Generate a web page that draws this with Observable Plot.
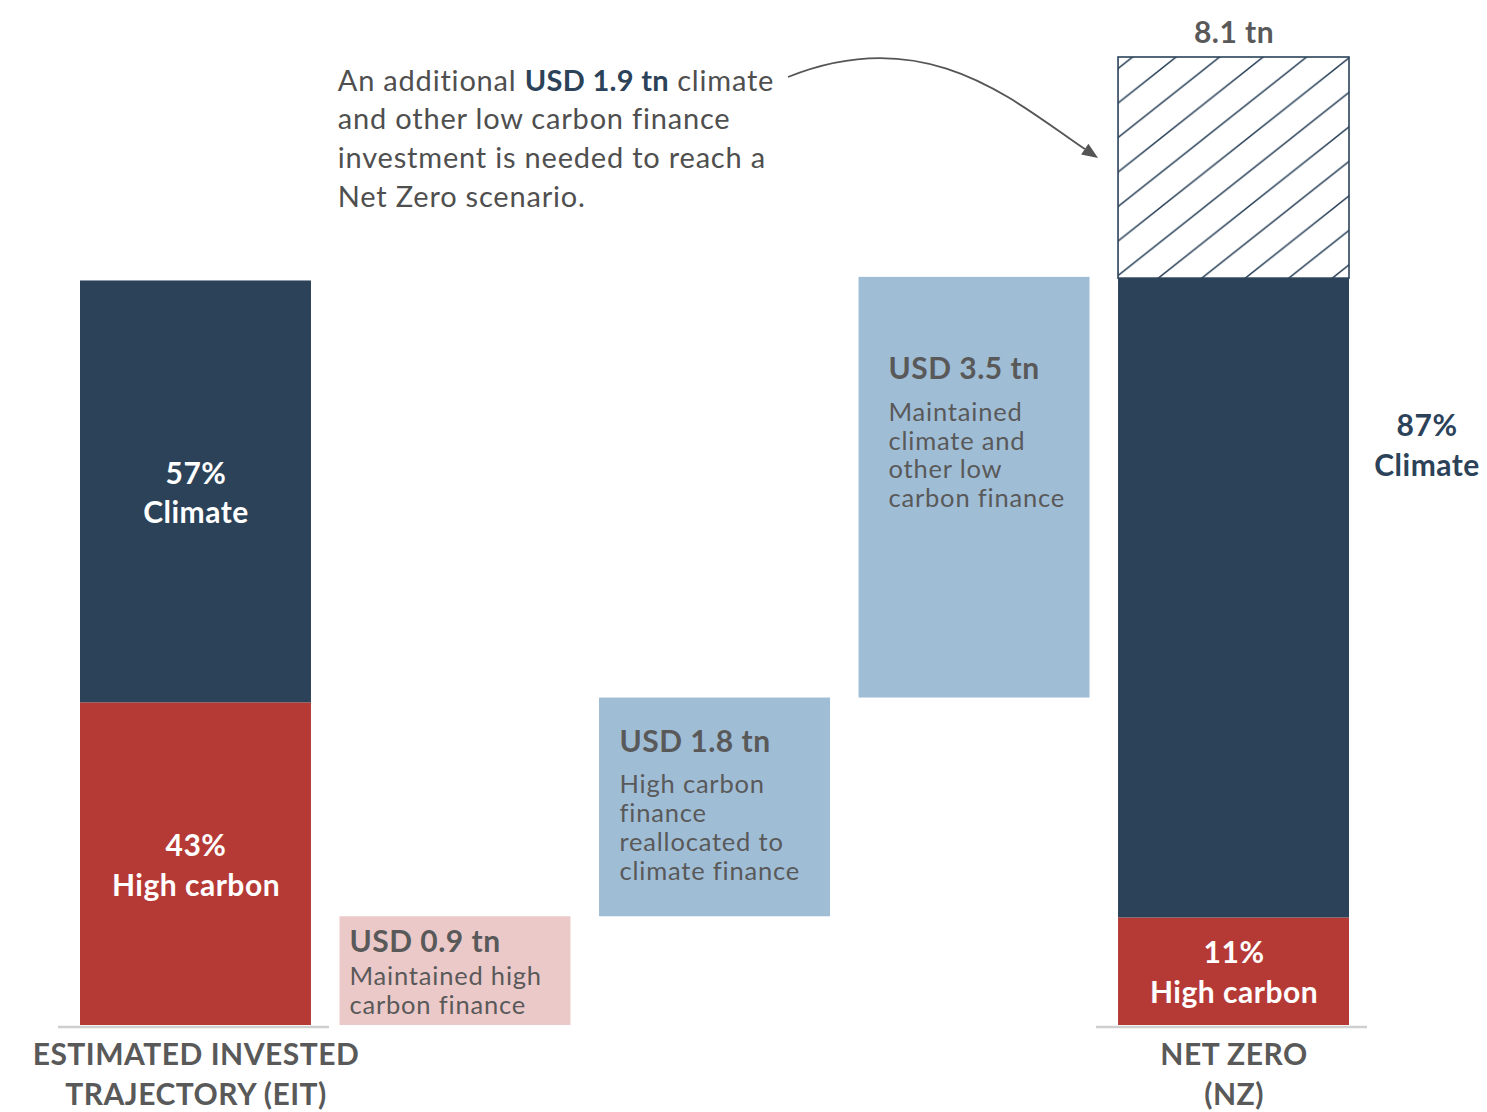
<!DOCTYPE html>
<html>
<head>
<meta charset="utf-8">
<script src="https://cdn.jsdelivr.net/npm/d3@7"></script>
<script src="https://cdn.jsdelivr.net/npm/@observablehq/plot@0.6"></script>
<style>
  html, body { margin: 0; padding: 0; background: #ffffff; }
  #chart { width: 1487px; height: 1112px; overflow: hidden; }
</style>
</head>
<body>
<div id="chart"></div>
<script>
// ---------- DATA ----------
const categories = ["EIT", "step1", "step2", "step3", "NZ"];
const axisLabels = ["ESTIMATED INVESTED\nTRAJECTORY (EIT)", "", "", "", "NET ZERO\n(NZ)"];

// Estimated invested trajectory (USD tn)
const eitHighCarbon = 2.7;
const eitClimate = 3.53;
const eitLabels = ["43%\nHigh carbon", "57%\nClimate"];

// Waterfall steps (USD tn)
const stepValues = [0.91, 1.83, 3.52];
const stepKinds = ["highShift", "climateShift", "climateShift"];
const stepTitles = ["USD 0.9 tn", "USD 1.8 tn", "USD 3.5 tn"];
const stepNotes = [
  "Maintained high\ncarbon finance",
  "High carbon\nfinance\nreallocated to\nclimate finance",
  "Maintained\nclimate and\nother low\ncarbon finance"
];

// Net Zero (USD tn)
const nzHighCarbon = 0.9;
const nzClimate = 5.35;
const nzAdditional = 1.85;
const nzLabels = ["11%\nHigh carbon", "87%\nClimate"];
const nzTotalLabel = "8.1 tn";

// Annotation
const annotationLines = [
  "An additional USD 1.9 tn climate",
  "and other low carbon finance",
  "investment is needed to reach a",
  "Net Zero scenario."
];
const annotationBold = "USD 1.9 tn";

// Colour keys
const kinds = ["high", "climate", "highShift", "climateShift"];
const kindColors = ["#b53a36", "#2b4259", "#ecc9c9", "#a0bdd6"];

// ---------- DERIVED TABLES ----------
const segments = [
  {cat: "EIT", y1: 0, y2: eitHighCarbon, kind: "high"},
  {cat: "EIT", y1: eitHighCarbon, y2: eitHighCarbon + eitClimate, kind: "climate"}
];
const steps = [];
let acc = 0;
stepValues.forEach((v, i) => {
  const row = {cat: categories[i + 1], y1: acc, y2: acc + v, kind: stepKinds[i], title: stepTitles[i], note: stepNotes[i]};
  segments.push(row);
  steps.push(row);
  acc += v;
});
segments.push({cat: "NZ", y1: 0, y2: nzHighCarbon, kind: "high"});
segments.push({cat: "NZ", y1: nzHighCarbon, y2: nzHighCarbon + nzClimate, kind: "climate"});
const nzClimateTop = nzHighCarbon + nzClimate;
const nzTotal = nzClimateTop + nzAdditional;
const hatchRows = [{cat: "NZ", y1: nzClimateTop, y2: nzTotal}];

const insideLabels = [
  {cat: "EIT", y: eitHighCarbon / 2, label: eitLabels[0]},
  {cat: "EIT", y: eitHighCarbon + eitClimate / 2, label: eitLabels[1]},
  {cat: "NZ", y: nzHighCarbon / 2, label: nzLabels[0]}
];
const baseRows = categories.map((c, i) => ({cat: c, label: axisLabels[i]})).filter(d => d.label);

const FONT = "Lato, 'Open Sans', 'Noto Sans', sans-serif";
const GREY = "#595959";

// per-step text offsets (layout)
const stepTextDx = [-106, -95.5, -86];
const stepTitleDy = [35.5, 54, 101.4];
const stepNoteDy = [97, 181.7, 229.8];

const stepTextMarks = [];
steps.forEach((s, i) => {
  stepTextMarks.push(Plot.text([s], {
    x: "cat", y: "y2", text: "title",
    textAnchor: "start", lineAnchor: "bottom",
    dx: stepTextDx[i], dy: stepTitleDy[i],
    fontSize: 30, fontWeight: 700, fill: GREY
  }));
  stepTextMarks.push(Plot.text([s], {
    x: "cat", y: "y2", text: "note",
    textAnchor: "start", lineAnchor: "bottom", lineHeight: 1.13,
    dx: stepTextDx[i], dy: stepNoteDy[i],
    fontSize: 25.5, fontWeight: 400, fill: GREY
  }));
});

const plot = Plot.plot({
  width: 1487,
  height: 1112,
  marginTop: 57,
  marginBottom: 87,
  marginLeft: 80,
  marginRight: 138,
  style: {fontFamily: FONT, background: "#ffffff", overflow: "visible"},
  x: {type: "band", domain: categories, paddingInner: 0.11, paddingOuter: 0, round: false, axis: null},
  y: {domain: [0, nzTotal], axis: null},
  color: {domain: kinds, range: kindColors},
  marks: [
    Plot.barY(segments, {x: "cat", y1: "y1", y2: "y2", fill: "kind"}),
    Plot.barY(hatchRows, {x: "cat", y1: "y1", y2: "y2", fill: "url(#nzHatch)", stroke: "#2b4259", strokeWidth: 1.6}),
    Plot.tickY(baseRows, {x: "cat", y: () => 0, stroke: "#cfcfcf", strokeWidth: 2.5, insetLeft: -22, insetRight: -18, dy: 1.5}),
    Plot.text(insideLabels, {
      x: "cat", y: "y", text: "label",
      lineAnchor: "bottom", lineHeight: 1.33, dy: 31.5,
      fontSize: 30, fontWeight: 700, fill: "#ffffff"
    }),
    Plot.text([{cat: "NZ", y: nzClimateTop, label: nzLabels[1]}], {
      x: "cat", y: "y", text: "label",
      lineAnchor: "bottom", lineHeight: 1.33, dx: 193, dy: 197,
      fontSize: 30, fontWeight: 700, fill: "#2b4259"
    }),
    Plot.text([{cat: "NZ", y: nzTotal, label: nzTotalLabel}], {
      x: "cat", y: "y", text: "label",
      lineAnchor: "bottom", dy: -14.5,
      fontSize: 30, fontWeight: 700, fill: GREY
    }),
    Plot.text(baseRows, {
      x: "cat", y: () => 0, text: "label",
      lineAnchor: "bottom", lineHeight: 1.32, dy: 79,
      fontSize: 30, fontWeight: 700, fill: GREY
    }),
    ...stepTextMarks,
    Plot.text([{cat: "step1", y: nzTotal, label: annotationLines.join("\n")}], {
      x: "cat", y: "y", text: "label",
      textAnchor: "start", lineAnchor: "bottom", lineHeight: 1.34,
      dx: -117.7, dy: 149.7,
      fontSize: 29, fontWeight: 400, fill: "#4f4f4f"
    })
  ]
});

// ---------- POST-PROCESSING: hatch pattern, letter spacing, rich text, arrow ----------
const svg = d3.select(plot);
const defs = svg.insert("defs", ":first-child");
const pw = 43.5, ph = 34.5;
const pat = defs.append("pattern")
  .attr("id", "nzHatch")
  .attr("patternUnits", "userSpaceOnUse")
  .attr("x", 30).attr("y", 0)
  .attr("width", pw).attr("height", ph);
pat.append("rect").attr("width", pw).attr("height", ph).attr("fill", "#ffffff");
pat.append("path")
  .attr("d", `M0,${ph}L${pw},0M${-pw/2},${ph/2}L${pw/2},${-ph/2}M${pw/2},${ph*1.5}L${pw*1.5},${ph/2}`)
  .attr("stroke", "#2b4259").attr("stroke-width", 1.5).attr("fill", "none");

// slightly wider tracking to match the reference typeface
svg.selectAll("text").each(function () {
  const g = this.closest("g");
  const w = g && g.getAttribute("font-weight");
  this.setAttribute("letter-spacing", w === "700" ? "0.5" : "0.8");
});

// bold run in the annotation's first line
svg.selectAll("text tspan").each(function () {
  if (this.textContent !== annotationLines[0]) return;
  const line = this.textContent;
  const idx = line.indexOf(annotationBold);
  if (idx < 0) return;
  this.textContent = "";
  const t = d3.select(this);
  t.append("tspan").text(line.slice(0, idx));
  t.append("tspan").attr("font-weight", 700).attr("fill", "#2b4259").attr("letter-spacing", "0.3").text(annotationBold);
  t.append("tspan").text(line.slice(idx + annotationBold.length));
});

// curved arrow toward the hatched (additional) block
const xs = plot.scale("x"), ys = plot.scale("y");
const L = xs.apply("NZ");
const T = ys.apply(nzTotal);
const P0 = [L - 330, T + 20], P1 = [L - 191, T - 36], P2 = [L - 103, T + 45], P3 = [L - 20, T + 101];
const g = svg.append("g").attr("aria-label", "arrow");
const dxE = P3[0] - P2[0], dyE = P3[1] - P2[1], len = Math.hypot(dxE, dyE);
const ux = dxE / len, uy = dyE / len;
const headLen = 16, headW = 6.5;
const base = [P3[0] - ux * headLen, P3[1] - uy * headLen];
g.append("path")
  .attr("d", `M${P0}C${P1} ${P2} ${base}`)
  .attr("fill", "none").attr("stroke", "#555555").attr("stroke-width", 1.8);
g.append("path")
  .attr("d", `M${P3}L${base[0] - uy * headW},${base[1] + ux * headW}L${base[0] + uy * headW},${base[1] - ux * headW}Z`)
  .attr("fill", "#555555");

document.getElementById("chart").appendChild(plot);
</script>
</body>
</html>
